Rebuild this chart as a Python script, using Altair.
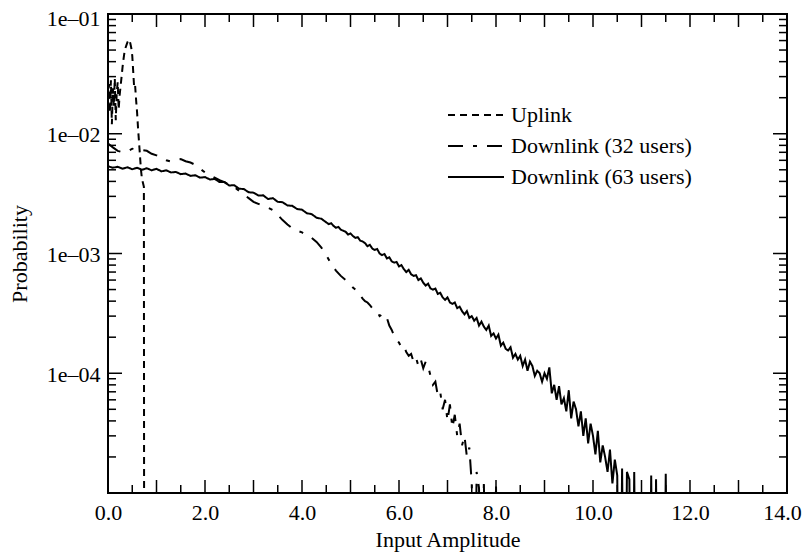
import altair as alt
import pandas as pd

# ---------------- data ----------------
series_names = ["Uplink", "Downlink (32 users)", "Downlink (63 users)"]
dash_patterns = [[7, 5], [15, 10, 4, 10], [1, 0]]

uplink_x = [0.00, 0.02, 0.04, 0.06, 0.08, 0.10, 0.12, 0.14, 0.16, 0.18, 0.20,
            0.22, 0.24, 0.26, 0.28, 0.30, 0.32, 0.34, 0.36, 0.38, 0.40, 0.42,
            0.44, 0.46, 0.48, 0.50, 0.52, 0.54, 0.56, 0.58, 0.60, 0.62, 0.64,
            0.66, 0.68, 0.70, 0.72, 0.74, 0.75]
uplink_y = [0.019, 0.026, 0.015, 0.028, 0.012, 0.024, 0.017, 0.029, 0.013, 0.022, 0.027,
            0.016, 0.021, 0.025, 0.030, 0.036, 0.042, 0.048, 0.052, 0.055, 0.058, 0.060,
            0.061, 0.057, 0.052, 0.045, 0.033, 0.024, 0.025, 0.019, 0.015, 0.011, 0.0085,
            0.0065, 0.0050, 0.0042, 0.0039, 0.0036, 1e-9]

dl32_x = [0.0, 0.1, 0.2, 0.3, 0.4, 0.5, 0.6, 0.7, 0.8, 0.9,
          1.0, 1.1, 1.2, 1.3, 1.4, 1.5, 1.6, 1.7, 1.8, 1.9,
          2.0, 2.1, 2.2, 2.3, 2.4, 2.5, 2.6, 2.7, 2.8, 2.9,
          3.0, 3.1, 3.2, 3.3, 3.4, 3.5, 3.6, 3.7, 3.8, 3.9,
          4.0, 4.1, 4.2, 4.3, 4.4, 4.5, 4.6, 4.7, 4.8, 4.9,
          5.00, 5.05, 5.10, 5.15, 5.20, 5.25, 5.30, 5.35, 5.40, 5.45,
          5.50, 5.55, 5.60, 5.65, 5.70, 5.75, 5.80, 5.85, 5.90, 5.95,
          6.00, 6.05, 6.10, 6.15, 6.20, 6.25, 6.30, 6.35, 6.40, 6.45,
          6.50, 6.55, 6.60, 6.65, 6.70, 6.75, 6.80, 6.85, 6.90, 6.95,
          7.00, 7.05, 7.10, 7.15, 7.20, 7.25, 7.30, 7.35, 7.40, 7.45,
          7.50, 7.55, 7.60, 7.65, 7.70, 7.75, 7.80, 7.95, 8.00, 8.05]
dl32_y = [8.3e-3, 7.7e-3, 7.2e-3, 7.0e-3, 7.1e-3, 7.5e-3, 7.4e-3, 7.3e-3, 7.2e-3, 6.8e-3,
          6.6e-3, 6.3e-3, 6.0e-3, 5.85e-3, 6.0e-3, 6.15e-3, 5.9e-3, 5.75e-3, 5.5e-3, 5.1e-3,
          4.75e-3, 4.5e-3, 4.3e-3, 4.1e-3, 3.95e-3, 3.72e-3, 3.6e-3, 3.35e-3, 3.1e-3, 2.9e-3,
          2.7e-3, 2.6e-3, 2.5e-3, 2.42e-3, 2.3e-3, 2.1e-3, 1.9e-3, 1.75e-3, 1.62e-3, 1.55e-3,
          1.5e-3, 1.42e-3, 1.35e-3, 1.25e-3, 1.12e-3, 0.97e-3, 0.82e-3, 0.72e-3, 0.65e-3, 0.6e-3,
          5.5e-4, 5.2e-4, 5.0e-4, 4.6e-4, 4.5e-4, 4.2e-4, 4.0e-4, 3.9e-4, 3.7e-4, 3.5e-4,
          3.4e-4, 3.3e-4, 3.0e-4, 3.1e-4, 2.85e-4, 2.9e-4, 2.5e-4, 2.3e-4, 2.05e-4, 1.9e-4,
          1.8e-4, 1.65e-4, 1.7e-4, 1.5e-4, 1.4e-4, 1.45e-4, 1.25e-4, 1.35e-4, 1.15e-4, 1.3e-4,
          1.1e-4, 1.25e-4, 1.15e-4, 0.95e-4, 0.8e-4, 0.85e-4, 0.65e-4, 0.7e-4, 0.5e-4, 0.6e-4,
          0.4e-4, 0.55e-4, 0.35e-4, 0.45e-4, 0.3e-4, 0.38e-4, 0.25e-4, 0.3e-4, 0.2e-4, 0.24e-4,
          0.12e-4, 1e-7, 0.15e-4, 0.11e-4, 1e-7, 0.13e-4, 1e-7, 1e-7, 0.12e-4, 1e-7]

dl63_x = [0.0, 0.1, 0.2, 0.3, 0.4, 0.5, 0.6, 0.7, 0.8, 0.9,
          1.0, 1.1, 1.2, 1.3, 1.4, 1.5, 1.6, 1.7, 1.8, 1.9,
          2.0, 2.1, 2.2, 2.3, 2.4, 2.5, 2.6, 2.7, 2.8, 2.9,
          3.0, 3.1, 3.2, 3.3, 3.4, 3.5, 3.6, 3.7, 3.8, 3.9,
          4.0, 4.1, 4.2, 4.3, 4.4,
          4.50, 4.55, 4.60, 4.65, 4.70, 4.75, 4.80, 4.85, 4.90, 4.95,
          5.00, 5.05, 5.10, 5.15, 5.20, 5.25, 5.30, 5.35, 5.40, 5.45,
          5.50, 5.55, 5.60, 5.65, 5.70, 5.75, 5.80, 5.85, 5.90, 5.95,
          6.00, 6.05, 6.10, 6.15, 6.20, 6.25, 6.30, 6.35, 6.40, 6.45,
          6.50, 6.55, 6.60, 6.65, 6.70, 6.75, 6.80, 6.85, 6.90, 6.95,
          7.00, 7.05, 7.10, 7.15, 7.20, 7.25, 7.30, 7.35, 7.40, 7.45,
          7.50, 7.55, 7.60, 7.65, 7.70, 7.75, 7.80, 7.85, 7.90, 7.95,
          8.00, 8.05, 8.10, 8.15, 8.20, 8.25, 8.30, 8.35, 8.40, 8.45,
          8.50, 8.55, 8.60, 8.65, 8.70, 8.75, 8.80, 8.85, 8.90, 8.95,
          9.00, 9.05, 9.10, 9.15, 9.20, 9.25, 9.30, 9.35, 9.40, 9.45,
          9.50, 9.55, 9.60, 9.65, 9.70, 9.75, 9.80, 9.85, 9.90, 9.95,
          10.00, 10.05, 10.10, 10.15, 10.20, 10.25, 10.30, 10.35, 10.40, 10.45,
          10.50, 10.55, 10.60, 10.65, 10.70, 10.75, 10.80, 10.85, 10.90, 11.15,
          11.20, 11.25, 11.30, 11.35, 11.45, 11.50, 11.55]
dl63_y = [5.35e-3, 5.2e-3, 5.3e-3, 5.1e-3, 5.25e-3, 5.05e-3, 5.2e-3, 5.0e-3, 5.15e-3, 4.95e-3,
          5.1e-3, 4.85e-3, 4.95e-3, 4.75e-3, 4.8e-3, 4.6e-3, 4.65e-3, 4.45e-3, 4.5e-3, 4.3e-3,
          4.35e-3, 4.15e-3, 4.2e-3, 3.95e-3, 3.95e-3, 3.7e-3, 3.72e-3, 3.48e-3, 3.45e-3, 3.25e-3,
          3.22e-3, 3.05e-3, 3.06e-3, 2.85e-3, 2.9e-3, 2.7e-3, 2.68e-3, 2.52e-3, 2.5e-3, 2.35e-3,
          2.32e-3, 2.17e-3, 2.13e-3, 1.99e-3, 1.95e-3,
          1.82e-3, 1.76e-3, 1.79e-3, 1.70e-3, 1.64e-3, 1.67e-3, 1.58e-3, 1.55e-3, 1.52e-3, 1.44e-3,
          1.47e-3, 1.40e-3, 1.35e-3, 1.37e-3, 1.28e-3, 1.26e-3, 1.22e-3, 1.15e-3, 1.18e-3, 1.10e-3,
          1.07e-3, 1.09e-3, 1.00e-3, 0.97e-3, 0.99e-3, 0.91e-3, 0.93e-3, 0.86e-3, 0.84e-3, 0.85e-3,
          0.78e-3, 0.80e-3, 0.74e-3, 0.70e-3, 0.73e-3, 0.67e-3, 0.65e-3, 0.66e-3, 0.60e-3, 0.62e-3,
          0.57e-3, 0.54e-3, 0.56e-3, 0.51e-3, 0.50e-3, 0.51e-3, 0.46e-3, 0.47e-3, 0.43e-3, 0.41e-3,
          0.43e-3, 0.39e-3, 0.38e-3, 0.39e-3, 0.35e-3, 0.36e-3, 0.33e-3, 0.31e-3, 0.33e-3, 0.29e-3,
          3.0e-4, 2.75e-4, 2.9e-4, 2.5e-4, 2.7e-4, 2.45e-4, 2.3e-4, 2.5e-4, 2.05e-4, 2.15e-4,
          1.95e-4, 2.1e-4, 1.7e-4, 1.8e-4, 1.6e-4, 1.55e-4, 1.65e-4, 1.35e-4, 1.45e-4, 1.3e-4,
          1.4e-4, 1.15e-4, 1.3e-4, 1.05e-4, 1.25e-4, 1.15e-4, 0.95e-4, 1.05e-4, 1.0e-4, 0.85e-4,
          1.0e-4, 0.9e-4, 1.12e-4, 0.68e-4, 0.8e-4, 0.6e-4, 0.78e-4, 0.55e-4, 0.62e-4, 0.48e-4,
          0.72e-4, 0.42e-4, 0.58e-4, 0.5e-4, 0.36e-4, 0.48e-4, 0.3e-4, 0.42e-4, 0.26e-4, 0.38e-4,
          0.3e-4, 0.21e-4, 0.33e-4, 0.18e-4, 0.25e-4, 0.2e-4, 0.15e-4, 0.23e-4, 0.12e-4, 0.19e-4,
          0.14e-4, 1e-7, 0.16e-4, 1e-7, 0.15e-4, 0.13e-4, 1e-7, 0.15e-4, 1e-7, 1e-7,
          0.14e-4, 1e-7, 0.13e-4, 1e-7, 1e-7, 0.145e-4, 1e-7]

x_label_values = [0, 2, 4, 6, 8, 10, 12, 14]
x_major_ticks = [0, 1, 2, 3, 4, 5, 6, 7, 8, 9, 10, 11, 12, 13, 14]
x_minor_ticks = [0.5, 1.5, 2.5, 3.5, 4.5, 5.5, 6.5, 7.5, 8.5, 9.5, 10.5, 11.5, 12.5, 13.5]
y_label_values = [1e-1, 1e-2, 1e-3, 1e-4]
y_major_ticks = [1e-5, 1e-4, 1e-3, 1e-2, 1e-1]
y_minor_ticks = [m * 10.0 ** e for e in (-5, -4, -3, -2) for m in (2, 3, 4, 5, 6, 7, 8, 9)]

assert len(uplink_x) == len(uplink_y)
assert len(dl32_x) == len(dl32_y)
assert len(dl63_x) == len(dl63_y), (len(dl63_x), len(dl63_y))

# ---------------- build table ----------------
rows = []
for name, xs, ys in zip(series_names,
                        [uplink_x, dl32_x, dl63_x],
                        [uplink_y, dl32_y, dl63_y]):
    for i, (a, b) in enumerate(zip(xs, ys)):
        rows.append({"x": a, "p": b, "series": name, "i": i})
df = pd.DataFrame(rows)

W, H = 679, 479
FONT = "Liberation Serif"
xscale = alt.Scale(domain=[0, 14], nice=False, zero=False)
yscale = alt.Scale(type="log", domain=[1e-5, 1e-1], nice=False)

x_axis = alt.Axis(values=x_label_values, format=".1f", title="Input Amplitude",
                  ticks=False, domain=False, grid=False, labelPadding=9,
                  labelFlush=False,
                  labelOffset={"condition": {"test": "datum.value >= 14", "value": -5},
                               "value": 0},
                  titleX=W / 2, titleY=46, titleBaseline="middle")
y_axis = alt.Axis(values=y_label_values,
                  labelExpr="'1e\u20130' + format(-log(datum.value)/LN10, '.0f')",
                  title="Probability", ticks=False, domain=False, grid=False,
                  labelPadding=8, labelFlush=False, labelOverlap=False,
                  labelOffset={"condition": {"test": "datum.value > 0.05", "value": 4},
                               "value": 1},
                  titleX=-89, titleY=H / 2, titleAngle=-90, titleBaseline="middle")

lines = alt.Chart(df).mark_line(clip=True, strokeWidth=2, color="black").encode(
    x=alt.X("x:Q", scale=xscale, axis=x_axis, title="Input Amplitude"),
    y=alt.Y("p:Q", scale=yscale, axis=y_axis, title="Probability"),
    strokeDash=alt.StrokeDash(
        "series:N",
        scale=alt.Scale(domain=series_names, range=dash_patterns),
        legend=alt.Legend(title=None, orient="none", legendX=329, legendY=90,
                          symbolType="M0,0H56", symbolSize=4, symbolStrokeWidth=2,
                          symbolStrokeColor="black", labelFont=FONT, labelFontSize=22,
                          labelColor="black", labelOffset=52, labelLimit=0,
                          rowPadding=9, padding=0)),
    detail="series:N",
    order="i:Q",
)

def hticks(vals, y0, y1):
    return alt.Chart(pd.DataFrame({"x": vals})).mark_rule(color="black", strokeWidth=1.5).encode(
        x=alt.X("x:Q", scale=xscale, axis=x_axis, title="Input Amplitude"),
        y=alt.value(y0), y2=alt.value(y1))

def vticks(vals, x0, x1):
    return alt.Chart(pd.DataFrame({"p": vals})).mark_rule(color="black", strokeWidth=1.5).encode(
        y=alt.Y("p:Q", scale=yscale, axis=y_axis, title="Probability"),
        x=alt.value(x0), x2=alt.value(x1))

layers = [
    hticks(x_major_ticks, H, H - 13), hticks(x_minor_ticks, H, H - 8),
    hticks(x_major_ticks, 0, 13), hticks(x_minor_ticks, 0, 8),
    vticks(y_major_ticks, 0, 14), vticks(y_minor_ticks, 0, 8),
    vticks(y_major_ticks, W, W - 14), vticks(y_minor_ticks, W, W - 8),
]

chart = alt.layer(lines, *layers).properties(
    width=W, height=H,
    autosize=alt.AutoSizeParams(type="none"),
    padding={"left": 100, "top": 6, "right": 15, "bottom": 59},
).configure_axis(
    labelFont=FONT, labelFontSize=22, labelColor="black",
    titleFont=FONT, titleFontSize=22, titleFontWeight="normal", titleColor="black",
).configure_view(stroke="black", strokeWidth=2)

chart.save("out.html", embed_options={"renderer": "svg", "actions": False})
